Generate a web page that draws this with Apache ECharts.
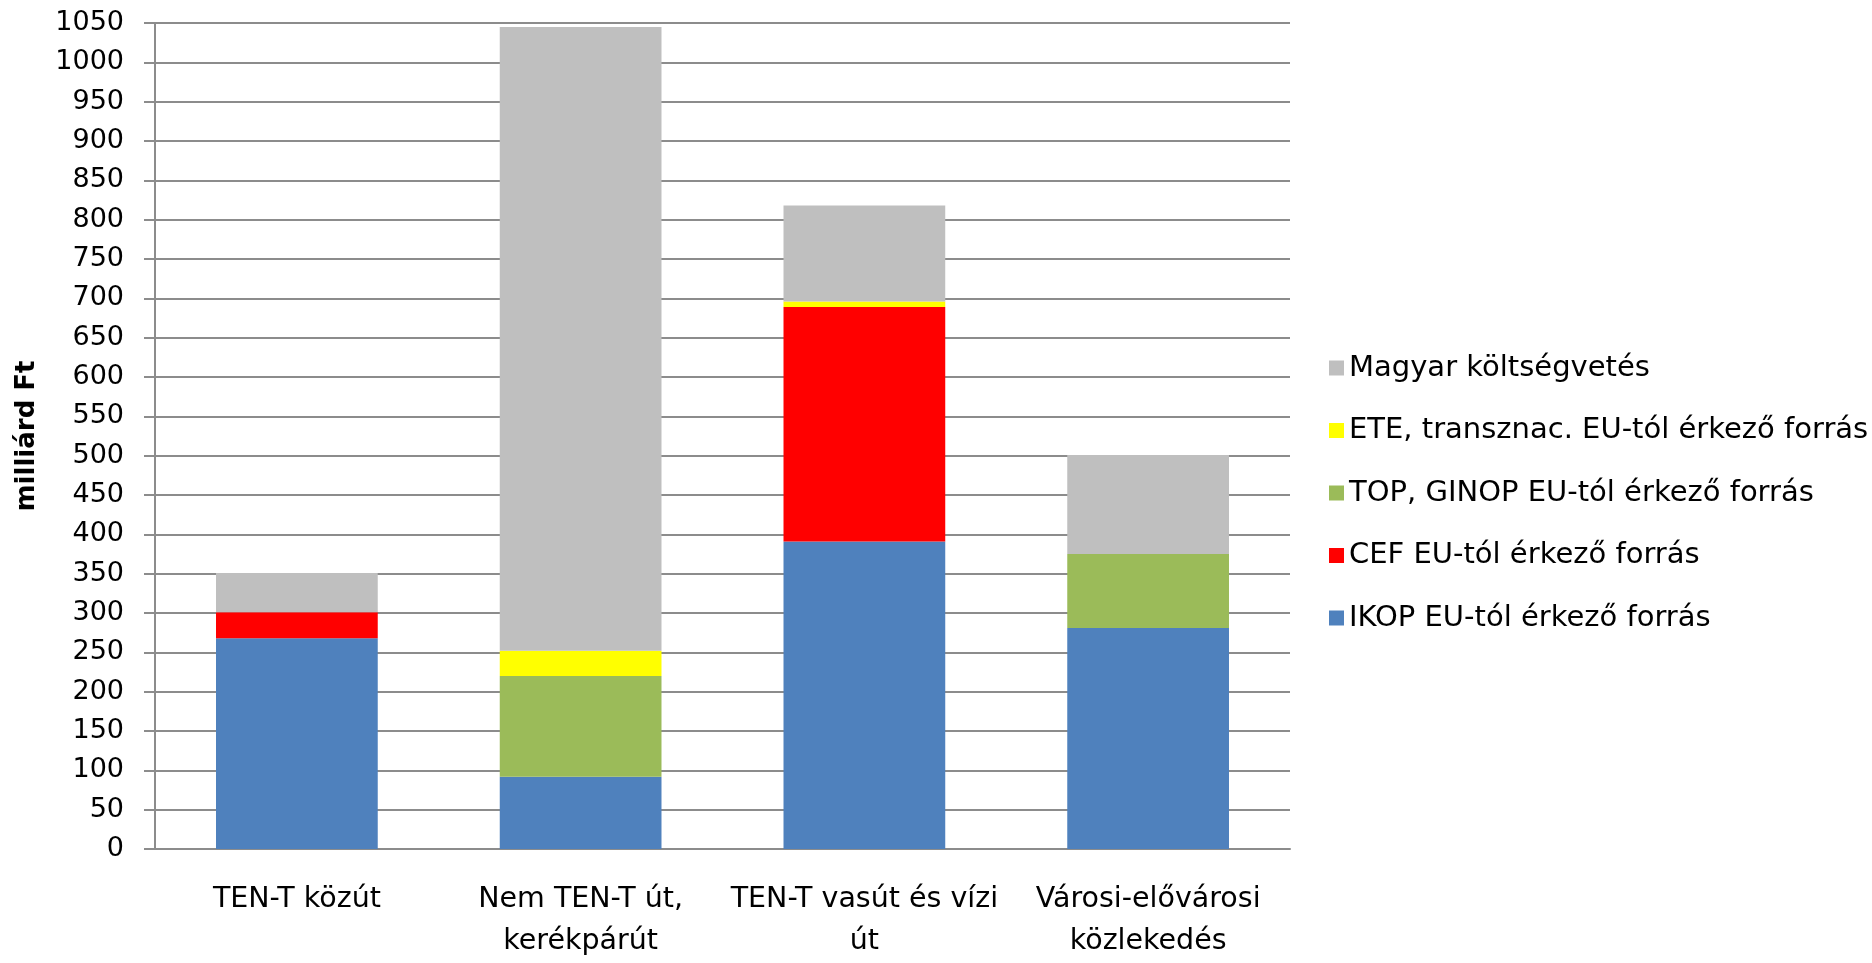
<!DOCTYPE html>
<html>
<head>
<meta charset="utf-8">
<script src="https://cdn.jsdelivr.net/npm/echarts@6/dist/echarts.min.js"></script>
<style>html,body{margin:0;padding:0;background:#fff}#c{width:1872px;height:963px}</style>
</head>
<body>
<div id="c"></div>
<script>
const categories = ['TEN-T közút', 'Nem TEN-T út,\nkerékpárút', 'TEN-T vasút és vízi\nút', 'Városi-elővárosi\nközlekedés'];
const seriesNames = ['IKOP EU-tól érkező forrás', 'CEF EU-tól érkező forrás', 'TOP, GINOP EU-tól érkező forrás', 'ETE, transznac. EU-tól érkező forrás', 'Magyar költségvetés'];
const ikop = [268, 92, 391, 281];
const cef = [33, 0, 298, 0];
const topGinop = [0, 128, 0, 94];
const ete = [0, 32, 7, 0];
const magyar = [50, 793, 122, 126];
const colors = ['#4F81BD', '#FF0000', '#9BBB59', '#FFFF00', '#BFBFBF'];
const yTicksMax = 1050, yStep = 50;

const font = 'DejaVu Sans';
const values = [ikop, cef, topGinop, ete, magyar];
const chart = echarts.init(document.getElementById('c'));
chart.setOption({
  animation: false,
  backgroundColor: '#fff',
  grid: { left: 155, right: 582, top: 23, bottom: 104 },
  legend: {
    orient: 'vertical', left: 1324, top: 348,
    data: seriesNames.slice().reverse(),
    itemWidth: 15, itemHeight: 15, itemGap: 32.5,
    icon: 'rect',
    textStyle: { fontFamily: font, fontSize: 29, color: '#000', lineHeight: 30 }
  },
  xAxis: {
    type: 'category', data: categories,
    axisLine: { lineStyle: { color: '#8c8c8c', width: 2 } },
    axisTick: { show: false },
    axisLabel: { fontFamily: font, fontSize: 28.5, color: '#000', lineHeight: 42, margin: 30, interval: 0 }
  },
  yAxis: {
    type: 'value', min: 0, max: yTicksMax, interval: yStep,
    name: 'milliárd Ft', nameLocation: 'middle', nameRotate: 90, nameGap: 115,
    nameTextStyle: { fontFamily: font, fontSize: 26, fontWeight: 'bold', color: '#000' },
    axisLine: { show: true, lineStyle: { color: '#8c8c8c', width: 2 } },
    axisTick: { show: true, length: 11, lineStyle: { color: '#8c8c8c', width: 2 } },
    splitLine: { lineStyle: { color: '#8c8c8c', width: 2 } },
    axisLabel: { fontFamily: font, fontSize: 27, color: '#000', margin: 31, formatter: v => String(v) }
  },
  series: seriesNames.map((n, i) => ({
    name: n, type: 'bar', stack: 'total', data: values[i],
    barCategoryGap: '43%',
    itemStyle: { color: colors[i] }
  }))
});
</script>
</body>
</html>
